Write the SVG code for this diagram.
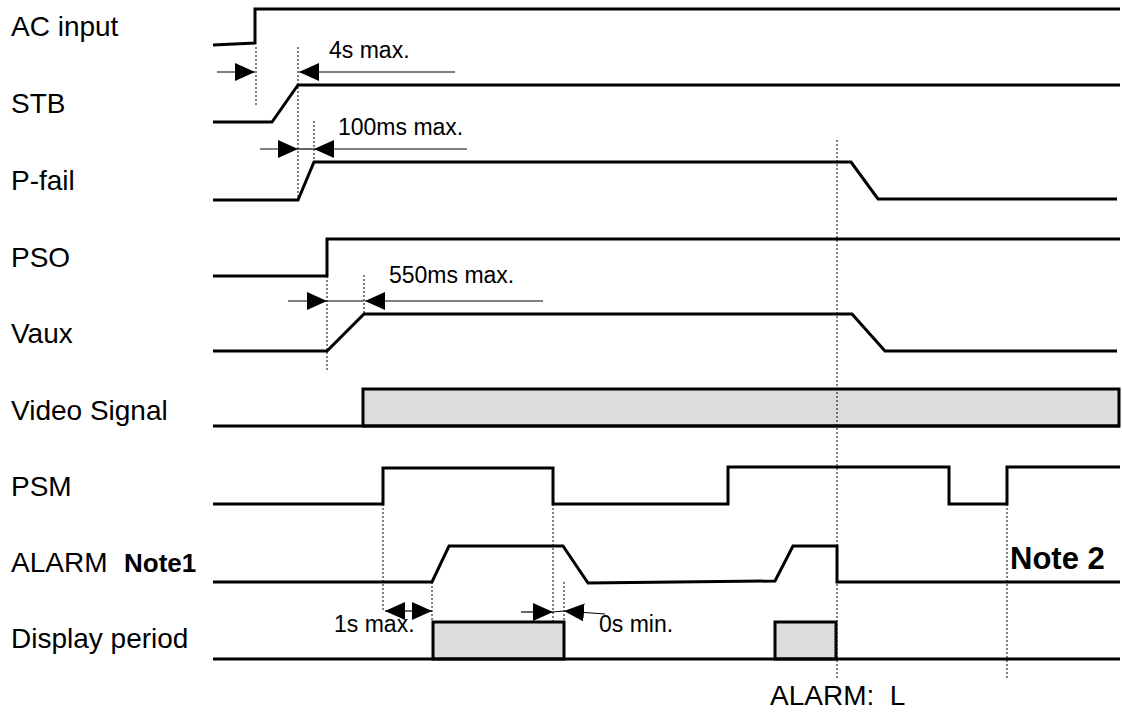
<svg xmlns="http://www.w3.org/2000/svg" width="1122" height="713" viewBox="0 0 1122 713">
<style>
.lbl{font-family:"Liberation Sans",Arial,sans-serif;font-size:28px;fill:#000}
.note{font-family:"Liberation Sans",Arial,sans-serif;font-weight:bold;fill:#000}
.ann{font-family:"Liberation Sans",Arial,sans-serif;font-size:23px;fill:#000}
.sig{fill:none;stroke:#000;stroke-width:3;stroke-linejoin:miter}
.box{fill:#dcdcdc;stroke:#000;stroke-width:3}
.dot{stroke:#000;stroke-width:1;stroke-dasharray:2 2;fill:none}
.dim{stroke:#000;stroke-width:1.2;fill:none;marker-end:url(#ah)}
.thin{stroke:#000;stroke-width:1.2;fill:none}
</style>
<defs>
<marker id="ah" markerUnits="userSpaceOnUse" markerWidth="20" markerHeight="18" refX="20" refY="9" orient="auto">
<path d="M0,0 L20,9 L0,18 Z" fill="#000"/>
</marker>
</defs>
<rect width="1122" height="713" fill="#fff"/>

<g id="ac-input">
<text class="lbl" x="11" y="36">AC input</text>
<path class="sig" d="M213,45 L255,43 L255,9 L1120,9"/>
</g>
<g id="stb">
<text class="lbl" x="11" y="113">STB</text>
<path class="sig" d="M213,122 L272,122 L298,85 L1120,85"/>
</g>
<g id="p-fail">
<text class="lbl" x="11" y="190">P-fail</text>
<path class="sig" d="M213,200 L298,200 L314,162 L851,162 L878,199 L1117,199"/>
</g>
<g id="pso">
<text class="lbl" x="11" y="267">PSO</text>
<path class="sig" d="M213,276 L327,276 L327,239 L1120,239"/>
</g>
<g id="vaux">
<text class="lbl" x="11" y="343">Vaux</text>
<path class="sig" d="M213,351 L327,351 L364,314 L852,314 L885,351 L1117,351"/>
</g>
<g id="video-signal">
<text class="lbl" x="11" y="420">Video Signal</text>
<rect class="box" x="363" y="389" width="756" height="37"/>
<path class="sig" d="M213,426 L1120,426"/>
</g>
<g id="psm">
<text class="lbl" x="11" y="496">PSM</text>
<path class="sig" d="M213,504 L383,504 L383,468 L553,468 L553,504 L728,504 L728,467 L949,467 L949,504 L1007,504 L1007,467 L1120,467"/>
</g>
<g id="alarm">
<text class="lbl" x="11" y="572">ALARM</text>
<text class="note" x="124" y="572" font-size="26">Note1</text>
<path class="sig" d="M213,582 L432,582 L449,546 L563,546 L588,583 L775,581 L793,546 L837,546 L837,582 L1120,582"/>
<text class="note" x="1010" y="569" font-size="31">Note 2</text>
</g>
<g id="display-period">
<text class="lbl" x="11" y="648">Display period</text>
<rect class="box" x="433" y="622" width="131" height="37"/>
<rect class="box" x="775" y="622" width="61" height="37"/>
<path class="sig" d="M213,659 L1120,659"/>
<text class="lbl" x="770" y="705" xml:space="preserve" style="white-space:pre">ALARM:  L</text>
</g>

<g id="connectors">
<line class="dot" x1="256" y1="47" x2="256" y2="105"/>
<line class="dot" x1="298" y1="47" x2="298" y2="200"/>
<line class="dot" x1="314" y1="121" x2="314" y2="160"/>
<line class="dot" x1="327" y1="276" x2="327" y2="370"/>
<line class="dot" x1="364" y1="275" x2="364" y2="313"/>
<line class="dot" x1="837" y1="140" x2="837" y2="678"/>
<line class="dot" x1="383" y1="504" x2="383" y2="612"/>
<line class="dot" x1="553" y1="504" x2="553" y2="622"/>
<line class="dot" x1="432" y1="582" x2="432" y2="622"/>
<line class="dot" x1="564" y1="582" x2="564" y2="622"/>
<line class="dot" x1="1007" y1="504" x2="1007" y2="678"/>

<line class="dim" x1="217" y1="72" x2="255" y2="72"/>
<line class="dim" x1="455" y1="72" x2="299" y2="72"/>
<text class="ann" x="329" y="58">4s max.</text>

<line class="dim" x1="260" y1="149" x2="298" y2="149"/>
<line class="dim" x1="467" y1="149" x2="314" y2="149"/>
<line class="thin" x1="298" y1="149" x2="314" y2="149"/>
<text class="ann" x="338" y="135">100ms max.</text>

<line class="dim" x1="288" y1="301" x2="327" y2="301"/>
<line class="dim" x1="543" y1="301" x2="365" y2="301"/>
<line class="thin" x1="327" y1="301" x2="364" y2="301"/>
<text class="ann" x="389" y="283">550ms max.</text>

<line class="dim" x1="408" y1="611" x2="385" y2="611"/>
<line class="dim" x1="408" y1="611" x2="432" y2="611"/>
<text class="ann" x="334" y="632">1s max.</text>

<line class="dim" x1="521" y1="612" x2="553" y2="612"/>
<line class="dim" x1="605" y1="614" x2="564" y2="611"/>
<line class="thin" x1="553" y1="612" x2="564" y2="611"/>
<text class="ann" x="599" y="632">0s min.</text>
</g>
</svg>
